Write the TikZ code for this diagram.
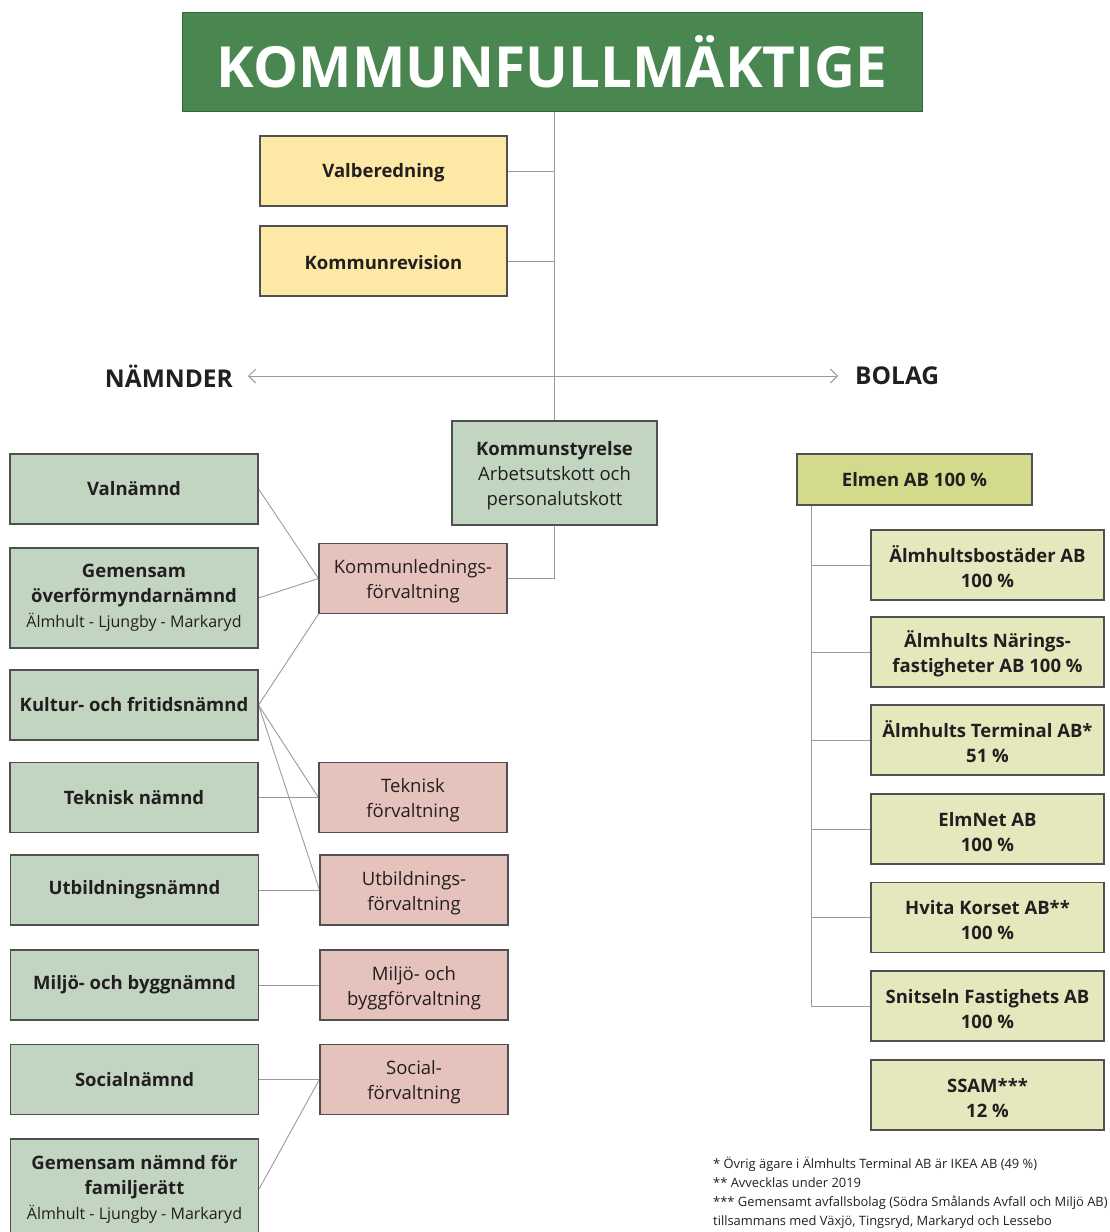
\documentclass[tikz,border=0pt]{standalone}
\usepackage{fontspec}
\setmainfont{Open Sans}
\usetikzlibrary{arrows.meta,backgrounds}
\definecolor{titlegreen}{HTML}{4A8750}
\definecolor{titleborder}{HTML}{2E6B35}
\definecolor{sage}{HTML}{C1D5C0}
\definecolor{ybox}{HTML}{FDE8A6}
\definecolor{pbox}{HTML}{E6C2BC}
\definecolor{elmen}{HTML}{D3DA8B}
\definecolor{subbox}{HTML}{E4E8BC}
\definecolor{bord}{HTML}{505050}
\definecolor{txt}{HTML}{231F20}
\definecolor{conn}{HTML}{9A9A9A}
\tikzset{
  box/.style={draw=bord, line width=1.1pt, align=center, inner sep=0pt, text=txt,
    font=\fontsize{18.5}{25}\selectfont},
  nbox/.style={box, fill=sage, minimum width=248pt, minimum height=70pt},
  fbox/.style={box, fill=pbox, minimum width=188pt, minimum height=70pt},
  ybx/.style={box, fill=ybox, minimum width=247pt, minimum height=70pt},
  sbox/.style={box, fill=subbox, minimum width=233pt, minimum height=70pt},
  cn/.style={draw=conn, line width=0.9pt},
  head/.style={font=\fontsize{24.5}{30}\selectfont\bfseries, text=txt, inner sep=0pt}
}
\newcommand{\subl}{\fontsize{16}{22}\selectfont}
\begin{document}
\begin{tikzpicture}[x=1pt,y=-1pt]
\useasboundingbox (0,0) rectangle (1110,1232);
% title
\node[draw=titleborder, line width=1pt, fill=titlegreen, minimum width=740pt, minimum height=99pt, inner sep=0pt] (title) at (552,61.5)
  {\color{white}\resizebox{670pt}{52pt}{\bfseries KOMMUNFULLMÄKTIGE}};
\node[ybx] (valb) at (383.5,171) {\rule{0pt}{17pt}\bfseries Valberedning};
\node[ybx] (krev) at (383.5,261) {\rule{0pt}{17pt}\bfseries Kommunrevision};
\node[box, fill=sage, minimum width=205pt, minimum height=104pt] (ks) at (554.5,473)
  {\rule{0pt}{20pt}{\bfseries Kommunstyrelse}\\Arbetsutskott och\\personalutskott};
\node[head, anchor=east] (namnder) at (233,376) {NÄMNDER};
\node[head, anchor=west] (bolag) at (855,376) {BOLAG};
% left column
\node[nbox] (valn) at (134,489) {\bfseries Valnämnd};
\node[nbox, minimum height=100pt] (gov) at (134,598)
  {\bfseries Gemensam\\\bfseries överförmyndarnämnd\\{\subl Älmhult - Ljungby - Markaryd}};
\node[nbox] (kult) at (134,705) {\bfseries Kultur- och fritidsnämnd};
\node[nbox] (tekn) at (134,797.5) {\bfseries Teknisk nämnd};
\node[nbox] (utb) at (134.5,890) {\bfseries Utbildningsnämnd};
\node[nbox] (milj) at (134.5,985) {\bfseries Miljö- och byggnämnd};
\node[nbox] (soc) at (134.5,1079.5) {\bfseries Socialnämnd};
\node[nbox, minimum height=100pt] (famr) at (134.5,1189)
  {\bfseries Gemensam nämnd för\\\bfseries familjerätt\\{\subl Älmhult - Ljungby - Markaryd}};
% förvaltningar
\node[fbox] (klf) at (413,578.5) {\rule{0pt}{20pt}Kommunlednings-\\förvaltning};
\node[fbox] (tekf) at (413,797.5) {\rule{0pt}{20pt}Teknisk\\förvaltning};
\node[fbox] (utbf) at (414,890) {\rule{0pt}{20pt}Utbildnings-\\förvaltning};
\node[fbox] (milf) at (414,985) {\rule{0pt}{20pt}Miljö- och\\byggförvaltning};
\node[fbox] (socf) at (414,1079.5) {\rule{0pt}{20pt}Social-\\förvaltning};
% bolag
\node[box, fill=elmen, minimum width=235pt, minimum height=51pt] (elm) at (914.5,479.5) {\bfseries Elmen AB 100 \%};
\node[sbox] (s1) at (987.5,565) {\rule{0pt}{20pt}\bfseries Älmhultsbostäder AB\\\bfseries 100 \%};
\node[sbox] (s2) at (987.5,652) {\rule{0pt}{20pt}\bfseries Älmhults Närings-\\\bfseries fastigheter AB 100 \%};
\node[sbox] (s3) at (987.5,740) {\rule{0pt}{20pt}\bfseries Älmhults Terminal AB*\\\bfseries 51 \%};
\node[sbox] (s4) at (987.5,829) {\rule{0pt}{20pt}\bfseries ElmNet AB\\\bfseries 100 \%};
\node[sbox] (s5) at (987.5,917.5) {\rule{0pt}{20pt}\bfseries Hvita Korset AB**\\\bfseries 100 \%};
\node[sbox] (s6) at (987.5,1006) {\rule{0pt}{20pt}\bfseries Snitseln Fastighets AB\\\bfseries 100 \%};
\node[sbox] (s7) at (987.5,1095) {\rule{0pt}{20pt}\bfseries SSAM***\\\bfseries 12 \%};
% footnotes
\node[anchor=north west, align=left, inner sep=0pt, text=txt, font=\fontsize{12.9}{19}\selectfont] (fn) at (713,1157)
  {* Övrig ägare i Älmhults Terminal AB är IKEA AB (49 \%)\\
   ** Avvecklas under 2019\\
   *** Gemensamt avfallsbolag (Södra Smålands Avfall och Miljö AB)\\
   tillsammans med Växjö, Tingsryd, Markaryd och Lessebo};
\begin{scope}[on background layer]
\draw[cn] (title.south -| ks.north) -- (ks.north);
\draw[cn] (valb.east) -- (valb.east -| ks.north);
\draw[cn] (krev.east) -- (krev.east -| ks.north);
\draw[cn, {Straight Barb[length=7pt,width=14pt]}-{Straight Barb[length=7pt,width=14pt]}, shorten <=15pt, shorten >=17pt]
  (namnder.east) -- (bolag.west);
\draw[cn] (ks.south) |- (klf.east);
\draw[cn] (valn.east) -- (klf.west);
\draw[cn] (gov.east) -- (klf.west);
\draw[cn] (kult.east) -- (klf.south west);
\draw[cn] (kult.east) -- (tekf.west);
\draw[cn] (kult.east) -- (utbf.west);
\draw[cn] (tekn.east) -- (tekf.west);
\draw[cn] (utb.east) -- (utbf.west);
\draw[cn] (milj.east) -- (milf.west);
\draw[cn] (soc.east) -- (socf.west);
\draw[cn] (famr.east) -- (socf.west);
\coordinate (et) at ([xshift=15pt]elm.south west);
\draw[cn] (et) |- (s6.west);
\foreach \s in {s1,s2,s3,s4,s5} \draw[cn] (\s.west) -- (\s.west -| et);
\end{scope}
\end{tikzpicture}
\end{document}
